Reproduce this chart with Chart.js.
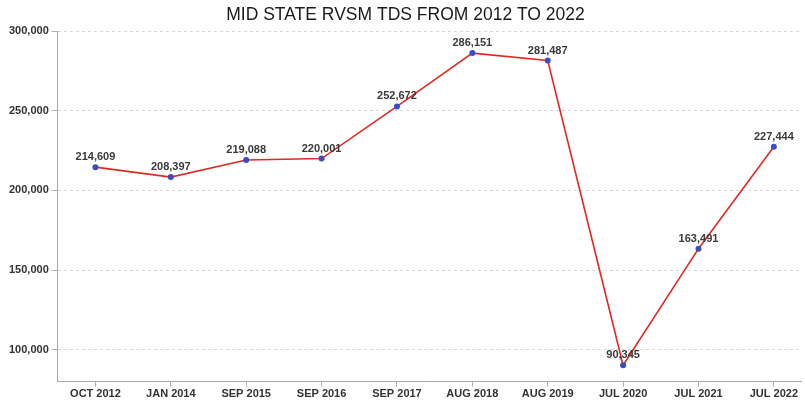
<!DOCTYPE html>
<html>
<head>
<meta charset="utf-8">
<script src="https://cdn.jsdelivr.net/npm/chart.js@4.4.1/dist/chart.umd.min.js"></script>
<style>
  html, body { margin: 0; padding: 0; background: #ffffff; overflow: hidden; }
  #wrap { position: relative; width: 805px; height: 402px; }
</style>
</head>
<body>
<div id="wrap"><canvas id="c" width="805" height="402"></canvas></div>
<script>
const categories = ["OCT 2012", "JAN 2014", "SEP 2015", "SEP 2016", "SEP 2017", "AUG 2018", "AUG 2019", "JUL 2020", "JUL 2021", "JUL 2022"];
const tdsValues = [214609, 208397, 219088, 220001, 252672, 286151, 281487, 90345, 163491, 227444];
const yTickValues = [100000, 150000, 200000, 250000, 300000];

const points = tdsValues.map((v, i) => ({ x: i, y: v }));

const valueLabels = {
  id: 'valueLabels',
  afterDatasetsDraw(chart) {
    const ctx = chart.ctx;
    const meta = chart.getDatasetMeta(0);
    ctx.save();
    ctx.font = 'bold 11px "Liberation Sans", Arial, sans-serif';
    ctx.fillStyle = '#3a3a3a';
    ctx.textAlign = 'center';
    ctx.textBaseline = 'middle';
    meta.data.forEach((pt, i) => {
      ctx.fillText(tdsValues[i].toLocaleString('en-US'), pt.x, pt.y - 10);
    });
    ctx.restore();
  }
};

new Chart(document.getElementById('c'), {
  type: 'line',
  data: {
    datasets: [{
      data: points,
      borderColor: '#dd2a22',
      borderWidth: 1.6,
      pointBackgroundColor: '#3a4cc0',
      pointBorderColor: '#3a4cc0',
      pointRadius: 3,
      pointBorderWidth: 0,
      tension: 0,
      fill: false
    }]
  },
  options: {
    responsive: false,
    animation: false,
    events: [],
    layout: { padding: { left: 6, right: 0, top: 0, bottom: 0 } },
    plugins: {
      legend: { display: false },
      tooltip: { enabled: false },
      title: {
        display: true,
        text: 'MID STATE RVSM TDS FROM 2012 TO 2022',
        color: '#1a1a1a',
        font: { family: '"Liberation Sans", Arial, sans-serif', size: 17.5, weight: 'normal', lineHeight: 1.2 },
        padding: { top: 5, bottom: 5 }
      }
    },
    scales: {
      x: {
        type: 'linear',
        min: -0.5,
        max: 9.36,
        afterBuildTicks(scale) {
          scale.ticks = categories.map((c, i) => ({ value: i }));
        },
        ticks: {
          autoSkip: false,
          maxRotation: 0,
          padding: 1,
          color: '#333333',
          font: { family: '"Liberation Sans", Arial, sans-serif', size: 11, weight: 'bold' },
          callback: (v) => categories[v] !== undefined ? categories[v] : ''
        },
        grid: { display: true, drawOnChartArea: false, drawTicks: true, tickLength: 5, tickColor: '#b0b0b0' },
        border: { display: true, color: '#a8a8a8', width: 1 }
      },
      y: {
        min: 80000,
        max: 300000,
        afterBuildTicks(scale) {
          scale.ticks = yTickValues.map(v => ({ value: v }));
        },
        ticks: {
          padding: 3,
          color: '#333333',
          font: { family: '"Liberation Sans", Arial, sans-serif', size: 11, weight: 'bold' },
          callback: (v) => v.toLocaleString('en-US')
        },
        grid: {
          color: '#d8d8d8',
          tickColor: '#b0b0b0',
          tickLength: 6,
          tickBorderDash: [],
          lineWidth: 1
        },
        border: { display: true, color: '#a8a8a8', width: 1, dash: [3, 3] }
      }
    }
  },
  plugins: [valueLabels]
});
</script>
</body>
</html>
